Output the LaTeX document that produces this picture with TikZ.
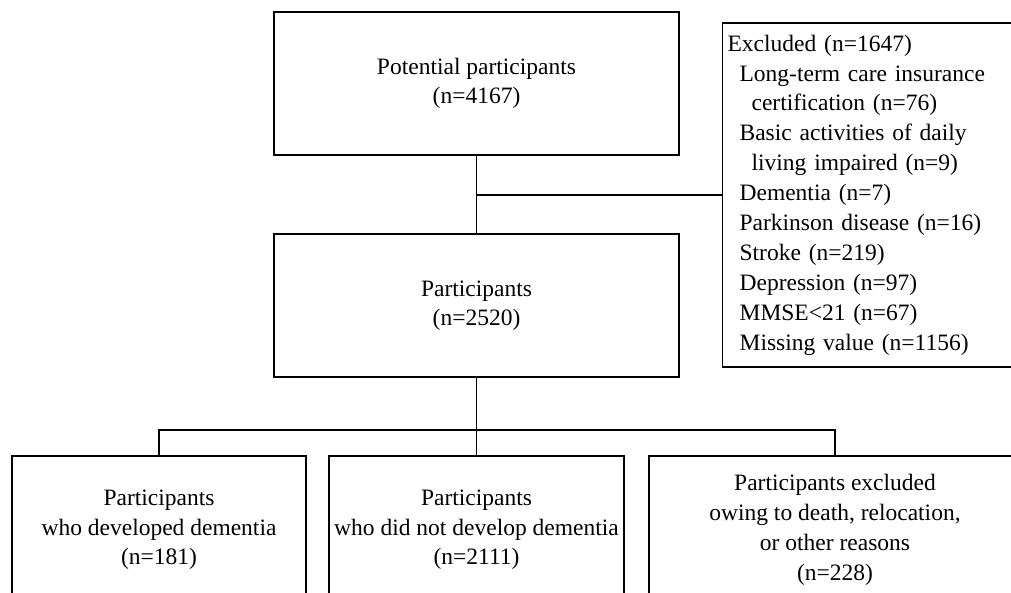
\documentclass[tikz,border=0pt]{standalone}
\usepackage{fontspec}
\setmainfont{Liberation Serif}
\begin{document}
\begin{tikzpicture}[x=1pt,y=-1pt,line width=1.2pt,
    box/.style={draw,align=center,inner sep=0pt,font=\fontsize{23.5}{29.5}\selectfont}]
        \useasboundingbox (0,0) rectangle (1011,592);

        % Riquadri centrali
        \node[box,minimum width=405pt,minimum height=143pt] (potential) at (476.5,83.5) {Potential participants\\(n=4167)};
        \node[box,minimum width=405pt,minimum height=143pt] (participants) at (476.5,305.5) {Participants\\(n=2520)};

        % Esclusi
        \node[box,anchor=west,align=left,text width=300pt,minimum height=344pt,inner xsep=5pt,font=\fontsize{23.5}{29.9}\selectfont] (excluded) at (722,195) {Excluded (n=1647)\\
            \hspace*{12pt}Long-term care insurance\\
            \hspace*{24pt}certification (n=76)\\
            \hspace*{12pt}Basic activities of daily\\
            \hspace*{24pt}living impaired (n=9)\\
            \hspace*{12pt}Dementia (n=7)\\
            \hspace*{12pt}Parkinson disease (n=16)\\
            \hspace*{12pt}Stroke (n=219)\\
            \hspace*{12pt}Depression (n=97)\\
            \hspace*{12pt}MMSE<21 (n=67)\\
            \hspace*{12pt}Missing value (n=1156)};

        % Riquadri in basso
        \node[box,minimum width=294pt,minimum height=148pt] (dementia) at (159,530) {Participants\\who developed dementia\\(n=181)};
        \node[box,minimum width=295pt,minimum height=148pt] (nodementia) at (476.5,530) {Participants\\who did not develop dementia\\(n=2111)};
        \node[box,minimum width=372pt,minimum height=148pt,font=\fontsize{23.5}{30}\selectfont] (dropout) at (835,530) {Participants excluded\\owing to death, relocation,\\or other reasons\\(n=228)};

        % Collegamenti
        \draw (potential.south) -- (participants.north);
        \draw (potential.south |- excluded.west) -- (excluded.west);
        \coordinate (split) at (476.5,430);
        \draw (participants.south) -- (split);
        \draw (dementia.north) |- (split) -| (dropout.north);
        \draw (split) -- (nodementia.north);
    \end{tikzpicture}
\end{document}
